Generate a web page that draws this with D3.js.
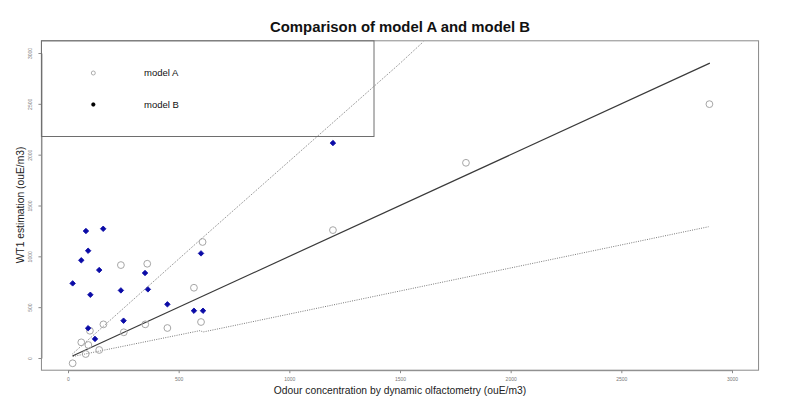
<!DOCTYPE html>
<html>

<head>
  <title>Comparison of model A and model B</title>
  <script src="https://cdn.jsdelivr.net/npm/d3@7"></script>
  <style type="text/css">
    html,
    body {
      margin: 0;
      padding: 0;
      background: #fff;
    }

    svg {
      display: block;
      font-family: "Liberation Sans", Arial, sans-serif;
    }

    .axis path,
    .axis line {
      fill: none;
      stroke: #8a8a8a;
      stroke-width: 1px;
    }

    .axis text {
      font-size: 5px;
      fill: #777;
    }
  </style>
</head>

<body>
  <svg class="svg"></svg>
  <script type="text/javascript">
    // model A (open circles)
    var modelA_x = [239, 358, 608, 569, 160, 252, 349, 449, 601, 99, 60, 92, 80, 141, 21, 1197, 1798, 2898];
    var modelA_y = [914, 927, 1141, 691, 331, 253, 331, 295, 354, 268, 154, 128, 39, 79, -52, 1258, 1920, 2497];

    // model B (blue diamonds)
    var modelB_x = [81, 159, 91, 60, 141, 21, 101, 239, 348, 361, 449, 569, 610, 601, 251, 91, 122, 1197];
    var modelB_y = [1249, 1271, 1055, 961, 865, 734, 622, 665, 836, 675, 528, 465, 465, 1029, 367, 293, 188, 2114];

    // reference lines
    var lineMid_x = [20, 2900];
    var lineMid_y = [20, 2900];
    var lineUp_x = [20, 596, 1500, 1605];
    var lineUp_y = [40, 1160, 2898, 3110];
    var lineLow_x = [22, 596, 611, 2894];
    var lineLow_y = [15, 269, 256, 1291];

    var xTicks = [0, 500, 1000, 1500, 2000, 2500, 3000];
    var yTicks = [0, 500, 1000, 1500, 2000, 2500, 3000];
    var legendLabels = ["model A", "model B"];

    var width = 800,
      height = 413;

    var svg = d3.select('.svg')
      .attr("width", width)
      .attr("height", height);

    var xScale = d3.scaleLinear()
      .domain([0, 3000])
      .range([68, 732]);

    var yScale = d3.scaleLinear()
      .domain([0, 3000])
      .range([358, 53]);

    // plot region, R style 4% padding
    var pLeft = xScale(-120),
      pRight = xScale(3120),
      pTop = yScale(3120),
      pBottom = yScale(-120);

    svg.append("defs").append("clipPath")
      .attr("id", "clip")
      .append("rect")
      .attr("x", pLeft)
      .attr("y", pTop)
      .attr("width", pRight - pLeft)
      .attr("height", pBottom - pTop);

    var xAxis = d3.axisBottom()
      .scale(xScale)
      .tickValues(xTicks)
      .tickFormat(d3.format("d"))
      .tickSizeInner(3)
      .tickSizeOuter(0)
      .tickPadding(4);

    var yAxis = d3.axisLeft()
      .scale(yScale)
      .tickValues(yTicks)
      .tickFormat(d3.format("d"))
      .tickSizeInner(3)
      .tickSizeOuter(0)
      .tickPadding(4);

    svg.append("g")
      .attr("class", "x axis")
      .attr("transform", `translate(0, ${pBottom})`)
      .call(xAxis);

    var gy = svg.append("g")
      .attr("class", "y axis")
      .attr("transform", `translate(${pLeft}, 0)`)
      .call(yAxis);

    // rotate y tick labels like R (las = 0)
    gy.selectAll('.tick text')
      .attr("x", 0)
      .attr("y", 0)
      .attr("dy", null)
      .attr("text-anchor", "middle")
      .attr("transform", "translate(-9, 0) rotate(-90)");

    // box
    svg.append("rect")
      .attr("x", pLeft)
      .attr("y", pTop)
      .attr("width", pRight - pLeft)
      .attr("height", pBottom - pTop)
      .attr("fill", "none")
      .attr("stroke", "#8a8a8a")
      .attr("stroke-width", 1);

    var plot = svg.append("g").attr("clip-path", "url(#clip)");

    var linePath = d3.line()
      .x(d => xScale(d[0]))
      .y(d => yScale(d[1]));

    // dotted lines
    [[lineUp_x, lineUp_y], [lineLow_x, lineLow_y]].forEach(function (l) {
      plot.append("path")
        .attr("d", linePath(d3.zip(l[0], l[1])))
        .attr("fill", "none")
        .attr("stroke", "#7a7a7a")
        .attr("stroke-width", 1)
        .attr("stroke-dasharray", "1,1.3");
    });

    // solid line
    plot.append("path")
      .attr("d", linePath(d3.zip(lineMid_x, lineMid_y)))
      .attr("fill", "none")
      .attr("stroke", "#3a3a3a")
      .attr("stroke-width", 1.2);

    // model A
    plot.selectAll(".ptA")
      .data(d3.zip(modelA_x, modelA_y))
      .enter()
      .append("circle")
      .attr("class", "ptA")
      .attr("cx", d => xScale(d[0]))
      .attr("cy", d => yScale(d[1]))
      .attr("r", 3.4)
      .attr("fill", "none")
      .attr("stroke", "#a6a6a6")
      .attr("stroke-width", 1);

    // model B
    var diamond = d3.symbol().type(d3.symbolSquare).size(15);
    plot.selectAll(".ptB")
      .data(d3.zip(modelB_x, modelB_y))
      .enter()
      .append("path")
      .attr("class", "ptB")
      .attr("d", diamond)
      .attr("transform", d => `translate(${xScale(d[0])},${yScale(d[1])}) rotate(45)`)
      .attr("fill", "#0a0aa6")
      .attr("stroke", "#0a0aa6")
      .attr("stroke-width", 0.8);

    // legend
    svg.append("rect")
      .attr("x", pLeft)
      .attr("y", pTop)
      .attr("width", 374 - pLeft)
      .attr("height", 136.5 - pTop)
      .attr("fill", "none")
      .attr("stroke", "#6e6e6e")
      .attr("stroke-width", 1);

    var leg = svg.selectAll(".leg")
      .data(legendLabels)
      .enter()
      .append("g")
      .attr("class", "leg")
      .attr("transform", (d, i) => `translate(0, ${73 + i * 31.5})`);

    leg.append("circle")
      .attr("cx", 93.3)
      .attr("cy", 0)
      .attr("r", (d, i) => i == 0 ? 2 : 1.9)
      .attr("fill", (d, i) => i == 0 ? "none" : "#000")
      .attr("stroke", (d, i) => i == 0 ? "#999" : "#000")
      .attr("stroke-width", (d, i) => i == 0 ? 0.8 : 0.3);

    leg.append("text")
      .attr("x", 144)
      .attr("y", 0)
      .attr("dy", "0.35em")
      .attr("font-size", "9.5px")
      .attr("fill", "#111")
      .text(d => d);

    // title and labels
    svg.append("text")
      .attr("x", 400)
      .attr("y", 32)
      .attr("text-anchor", "middle")
      .attr("font-size", "14px")
      .attr("font-weight", "bold")
      .attr("textLength", 260)
      .attr("lengthAdjust", "spacingAndGlyphs")
      .attr("fill", "#111")
      .text("Comparison of model A and model B");

    svg.append("text")
      .attr("x", 400)
      .attr("y", 394)
      .attr("text-anchor", "middle")
      .attr("font-size", "10.3px")
      .attr("fill", "#222")
      .text("Odour concentration by dynamic olfactometry (ouE/m3)");

    svg.append("text")
      .attr("transform", "translate(23.5, 205) rotate(-90)")
      .attr("text-anchor", "middle")
      .attr("font-size", "10.3px")
      .attr("fill", "#222")
      .text("WT1 estimation (ouE/m3)");
  </script>
</body>

</html>
